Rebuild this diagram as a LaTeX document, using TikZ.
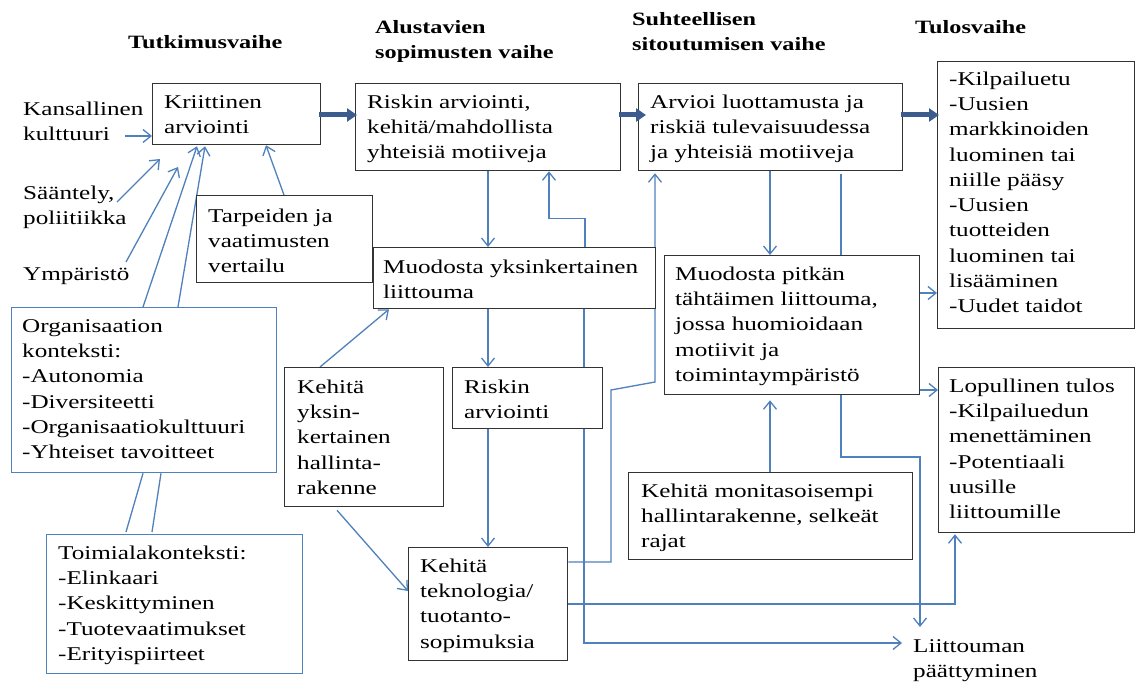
\documentclass[tikz,border=0pt]{standalone}
\usepackage{fontspec}
\setmainfont{Liberation Serif}[FakeStretch=1.29]
\usetikzlibrary{arrows.meta,calc,backgrounds}
\definecolor{lnblue}{HTML}{4F81BD}
\definecolor{thkblue}{HTML}{3D5C8E}
\definecolor{boxline}{HTML}{333333}
% first line of every text block gets its baseline 25pt below the block top
\newcommand\lns[1]{\rule{0pt}{25pt}#1}

\begin{document}
\begin{tikzpicture}[x=1pt,y=-1pt,
  every node/.style={font=\fontsize{19.5}{25.3}\selectfont},
  blk/.style={draw=boxline, line width=1.3pt, fill=white, inner sep=0pt, anchor=north west},
  bbox/.style={draw=lnblue, line width=1.3pt, fill=white, inner sep=0pt, anchor=north west},
  txt/.style={inner sep=0pt, anchor=north west, align=left},
  phase/.style={txt, font=\fontsize{18.8}{25.3}\selectfont\bfseries},
  conn/.style={draw=lnblue, line width=1.3pt, -{Straight Barb[length=8pt,width=13pt]}},
  link/.style={draw=lnblue, line width=1.3pt},
  bigarrow/.style={draw=thkblue, line width=5pt, -{Triangle[length=10pt,width=13pt]}},
]
\useasboundingbox (0,0) rectangle (1136,684);

% phase headings
\node[phase] (tut) at (128,23) {\lns{Tutkimusvaihe}};
\node[phase] (alu) at (375,8) {\lns{Alustavien\\sopimusten vaihe}};
\node[phase] (suh) at (632,0) {\lns{Suhteellisen\\sitoutumisen vaihe}};
\node[phase] (tul) at (915,8) {\lns{Tulosvaihe}};

% outside influences
\node[txt] (kan) at (23,90) {\lns{Kansallinen\\kulttuuri}};
\node[txt] (saa) at (23,174) {\lns{Sääntely,\\poliitiikka}};
\node[txt] (ymp) at (23,255) {\lns{Ympäristö}};
\node[txt] (li) at (913,627) {\lns{Liittouman\\päättyminen}};

% boxes
\node[blk, minimum width=168pt, minimum height=61pt] (kr) at (152,83) {};
\node[txt] (kr-t) at ($(kr.north west)+(12,0)$) {\lns{Kriittinen\\arviointi}};

\node[blk, minimum width=265pt, minimum height=87pt] (ra) at (355,83) {};
\node[txt] (ra-t) at ($(ra.north west)+(12,0)$) {\lns{Riskin arviointi,\\kehitä/mahdollista\\yhteisiä motiiveja}};

\node[blk, minimum width=264pt, minimum height=87pt] (su) at (638,83) {};
\node[txt] (su-t) at ($(su.north west)+(12,0)$) {\lns{Arvioi luottamusta ja\\riskiä tulevaisuudessa\\ja yhteisiä motiiveja}};

\node[blk, minimum width=197pt, minimum height=267pt] (res) at (937,61) {};
\node[txt] (res-t) at ($(res.north west)+(12,-1)$) {\lns{-Kilpailuetu\\-Uusien\\markkinoiden\\luominen tai\\niille pääsy\\-Uusien\\tuotteiden\\luominen tai\\lisääminen\\-Uudet taidot}};

\node[blk, minimum width=176pt, minimum height=87pt] (ta) at (196,195) {};
\node[txt] (ta-t) at ($(ta.north west)+(12,2)$) {\lns{Tarpeiden ja\\vaatimusten\\vertailu}};

\node[blk, minimum width=282pt, minimum height=61pt] (my) at (373,247) {};
\node[txt] (my-t) at ($(my.north west)+(10,1)$) {\lns{Muodosta yksinkertainen\\liittouma}};

\node[blk, minimum width=255pt, minimum height=139pt] (mp) at (664,255) {};
\node[txt] (mp-t) at ($(mp.north west)+(11,0)$) {\lns{Muodosta pitkän\\tähtäimen liittouma,\\jossa huomioidaan\\motiivit ja\\toimintaympäristö}};

\node[bbox, minimum width=265pt, minimum height=165pt] (org) at (11,307) {};
\node[txt] (org-t) at ($(org.north west)+(11,0)$) {\lns{Organisaation\\konteksti:\\-Autonomia\\-Diversiteetti\\-Organisaatiokulttuuri\\-Yhteiset tavoitteet}};

\node[blk, minimum width=159pt, minimum height=139pt] (ky) at (284,367) {};
\node[txt] (ky-t) at ($(ky.north west)+(13,1)$) {\lns{Kehitä\\yksin-\\kertainen\\hallinta-\\rakenne}};

\node[blk, minimum width=150pt, minimum height=61pt] (rs) at (452,367) {};
\node[txt] (rs-t) at ($(rs.north west)+(12,1)$) {\lns{Riskin\\arviointi}};

\node[blk, minimum width=196pt, minimum height=165pt] (lo) at (938,367) {};
\node[txt] (lo-t) at ($(lo.north west)+(11,0)$) {\lns{Lopullinen tulos\\-Kilpailuedun\\menettäminen\\-Potentiaali\\uusille\\liittoumille}};

\node[blk, minimum width=284pt, minimum height=87pt] (km) at (628,472) {};
\node[txt] (km-t) at ($(km.north west)+(13,0)$) {\lns{Kehitä monitasoisempi\\hallintarakenne, selkeät\\rajat}};

\node[blk, minimum width=159pt, minimum height=113pt] (kt) at (408,547) {};
\node[txt] (kt-t) at ($(kt.north west)+(12,0)$) {\lns{Kehitä\\teknologia/\\tuotanto-\\sopimuksia}};

\node[bbox, minimum width=256pt, minimum height=139pt] (toi) at (46,534) {};
\node[txt] (toi-t) at ($(toi.north west)+(12,0)$) {\lns{Toimialakonteksti:\\-Elinkaari\\-Keskittyminen\\-Tuotevaatimukset\\-Erityispiirteet}};

% free ends of the influence arrows
\coordinate (kan-out) at (125,136);
\coordinate (saa-out) at (117,202);
\coordinate (saa-in) at (160,159);
\coordinate (ymp-out) at (126,262);
\coordinate (ymp-in) at (178,167);
\coordinate (li-top) at ($(li.north west)+(7,0)$);
\coordinate (li-in) at ($(li.north west)+(-11,16)$);

% thin connectors run behind the boxes
\begin{scope}[on background layer]
  \fill[white] (0,0) rectangle (1136,684);
  \draw[conn] (kan-out) -- (kan-out -| kr.west);
  \draw[conn] (saa-out) -- (saa-in);
  \draw[conn] (ymp-out) -- (ymp-in);
  \draw[conn] ($(org.north west)+(132,0)$) -- ($(kr.south west)+(45,1)$);
  \draw[conn] ($(org.north west)+(167,0)$) -- ($(kr.south west)+(53,1)$);
  \draw[link] ($(toi.north west)+(80,-2)$) -- ($(org.south west)+(132,0)$);
  \draw[link] ($(toi.north west)+(106,-2)$) -- ($(org.south west)+(150,0)$);
  \draw[conn] ($(ta.north west)+(88,0)$) -- ($(kr.south west)+(114,0)$);
  \draw[conn] ($(ra.south west)+(133,0)$) -- ($(my.north west)+(115,0)$);
  \draw[conn] ($(my.north west)+(212,0)$) |- ($(ra.south west)+(194,47)$) -- ($(ra.south west)+(194,0)$);
  \draw[conn] ($(my.south west)+(115,0)$) -- ($(rs.north west)+(36,0)$);
  \draw[conn] ($(ky.north west)+(36,0)$) -- ($(my.south west)+(16,0)$);
  \draw[conn] ($(my.south west)+(211,0)$) |- (li-in);
  \draw[conn] ($(rs.south west)+(36,0)$) -- ($(kt.north west)+(80,0)$);
  \draw[conn] ($(ky.south west)+(53,3)$) -- ($(kt.north west)+(0,44)$);
  \draw[conn] ($(kt.north east)+(0,15)$) -| (611,390) -- (655,382) -- ($(su.south west)+(17,2)$);
  \draw[conn] ($(kt.north east)+(0,57)$) -| ($(lo.south west)+(17,1)$);
  \draw[conn] ($(su.south west)+(132,0)$) -- ($(mp.north west)+(106,0)$);
  \draw[conn] ($(su.south west)+(203,3)$) |- (920,457) -- (li-top);
  \draw[conn] ($(mp.north east)+(0,38)$) -- ($(res.north west)+(0,232)$);
  \draw[conn] ($(mp.north east)+(0,135)$) -- ($(lo.north west)+(0,23)$);
  \draw[conn] ($(km.north west)+(142,0)$) -- ($(mp.south west)+(106,5)$);
\end{scope}

% main flow between the phases
\draw[bigarrow] ($(kr.north east)+(-2,32)$) -- ($(ra.north west)+(2,32)$);
\draw[bigarrow] ($(ra.north east)+(-2,32)$) -- ($(su.north west)+(8,32)$);
\draw[bigarrow] ($(su.north east)+(-2,32)$) -- ($(res.north west)+(2,54)$);
\end{tikzpicture}
\end{document}
